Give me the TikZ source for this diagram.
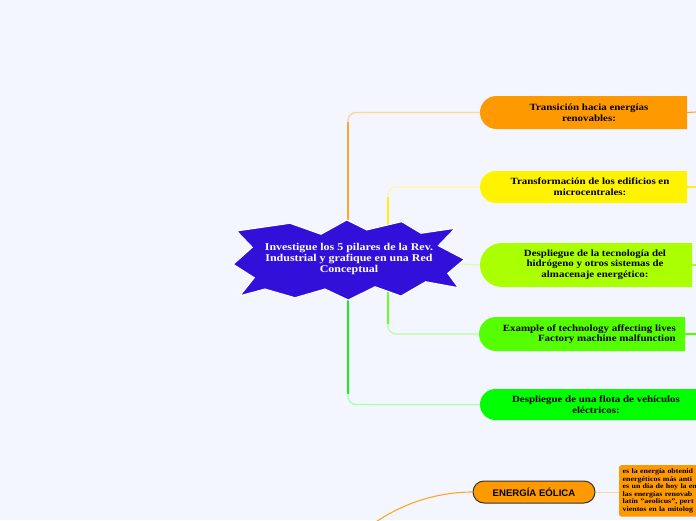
\documentclass[tikz,border=0pt]{standalone}
\usepackage{fontspec}
\setmainfont[FakeStretch=1.15]{Liberation Serif}
\newfontfamily\sansbold{Liberation Sans}
\usetikzlibrary{shapes.misc}
\definecolor{bg}{HTML}{F3F6FE}
\definecolor{starblue}{HTML}{3210DA}
\definecolor{cOrange}{HTML}{FF9900}
\definecolor{cYellow}{HTML}{FFF300}
\definecolor{cLime}{HTML}{AAFF00}
\definecolor{cGreen}{HTML}{55FF00}
\definecolor{cBright}{HTML}{00FF00}
\definecolor{lOrange}{HTML}{FFA52A}
\definecolor{pOrange}{HTML}{FFD49A}
\definecolor{lYellow}{HTML}{FFEE10}
\definecolor{pYellow}{HTML}{FFF7A0}
\definecolor{pLime}{HTML}{D6FFA6}
\definecolor{lGreen}{HTML}{66FF2A}
\definecolor{pGreen}{HTML}{B8FFA2}
\definecolor{lBright}{HTML}{18EE18}
\definecolor{pBright}{HTML}{AAFFAA}
\tikzset{
  branch/.style={rounded rectangle, rounded rectangle right arc=none, inner sep=0pt, outer sep=0pt},
  btext/.style={font=\bfseries\fontsize{9.5}{10.6}\selectfont, align=center, inner sep=0pt, text=black},
  conn/.style={line width=1.3pt},
  stub/.style={line width=1.1pt},
}
\begin{document}
\begin{tikzpicture}[x=1pt,y=-1pt]
\useasboundingbox (0,0) rectangle (696,520);
\clip (0,0) rectangle (696,520);
\fill[bg] (0,0) rectangle (696,520);

% star anchors
\coordinate (sO) at (348,224);
\coordinate (sY) at (388,226);
\coordinate (sL) at (460,264);
\coordinate (sG) at (388,292);
\coordinate (sB) at (348,298);

% branch nodes
\node[branch, fill=cOrange, minimum width=207, minimum height=33] (n1) at (583.5,112.5) {};
\node[branch, fill=cYellow, minimum width=207, minimum height=32] (n2) at (583.5,187) {};
\node[branch, fill=cLime, minimum width=212, minimum height=44] (n3) at (586,265) {};
\node[branch, fill=cGreen, minimum width=206, minimum height=34] (n4) at (582,334) {};
\node[branch, fill=cBright, minimum width=240, minimum height=31] (n5) at (600,404.5) {};

% connectors
\draw[conn, pOrange, rounded corners=8] (sO) |- (n1.west);
\draw[conn, lOrange] (sO) -- (348,122);
\draw[conn, pYellow, rounded corners=8] (sY) |- (n2.west);
\draw[conn, lYellow] (sY) -- (388,197);
\draw[conn, pLime] (sL) -- (n3.west);
\draw[conn, pGreen, rounded corners=8] (sG) |- (n4.west);
\draw[conn, lGreen] (sG) -- (388,324);
\draw[conn, pBright, rounded corners=8] (sB) |- (n5.west);
\draw[conn, lBright] (sB) -- (348,394);

% right stubs
\coordinate (e1) at (696,112);
\coordinate (e2) at (696,187);
\coordinate (e3) at (696,265);
\coordinate (e4) at (696,334);
\draw[stub, lOrange] (n1.east) -- (e1);
\draw[stub, lYellow] (n2.east) -- (e2);
\draw[stub, cLime] (n3.east) -- (e3);
\draw[stub, cGreen] (n4.east) -- (e4);

% branch texts
\node[btext] (t1) at (589,112.5) {Transición hacia energías\\renovables:};
\node[btext] (t2) at (590,186.5) {Transformación de los edificios en\\microcentrales:};
\node[btext] (t3) at (595,264.5) {Despliegue de la tecnología del\\hidrógeno y otros sistemas de\\almacenaje energético:};
\node[btext, align=right, anchor=east] (t4) at (676,334) {Example of technology affecting lives\\Factory machine malfunction};
\node[btext] (t5) at (596,405) {Despliegue de una flota de vehículos\\eléctricos:};

% central star
\fill[starblue, draw=white, line width=1pt]
  (236.7,231) -- (290,223.3) -- (321,234.3) -- (346.7,220) -- (366.7,230)
  -- (401.7,221.7) -- (421,233.3) -- (455,228.3) -- (438.3,245.7) -- (464.3,259.3)
  -- (447.7,273.3) -- (458.3,287.7) -- (425.7,281.7) -- (401,296) -- (375,286.7)
  -- (348.3,300) -- (325,289) -- (295,297.7) -- (265,289) -- (240,295.7)
  -- (254.3,277.7) -- (233.3,264.3) -- (252.3,247.3) -- cycle;
\node[btext, text=white, font=\bfseries\fontsize{10.4}{11}\selectfont] (root) at (349,258.5) {Investigue los 5 pilares de la Rev.\\Industrial y grafique en una Red\\Conceptual};

% lower part
\node[rounded rectangle, fill=cOrange, draw=black!80, line width=1pt, minimum width=122, minimum height=22, inner sep=0pt,
  font=\sansbold\bfseries\fontsize{9.6}{10}\selectfont] (eol) at (534,492) {ENERGÍA EÓLICA};
\node[fill=cOrange, rounded corners=2pt, anchor=north west, align=left, inner xsep=3.5pt, inner ysep=3.5pt,
  minimum width=100, text width=93, font=\bfseries\fontsize{6.9}{7.6}\selectfont] (desc) at (619,465)
  {es la energía obtenid\\
   energéticos más anti\\
   es un día de hoy la en\\
   las energías renovab\\
   latín {\char34}aeolicus{\char34}, pert\\
   vientos en la mitolog};
\draw[line width=1pt, pOrange] (eol.east) -- (desc.west |- eol.east);
\coordinate (curveEnd) at (365,530);
\draw[line width=1.1pt, lOrange] (eol.west) .. controls (440,492) and (400,502) .. (curveEnd);
\end{tikzpicture}
\end{document}
